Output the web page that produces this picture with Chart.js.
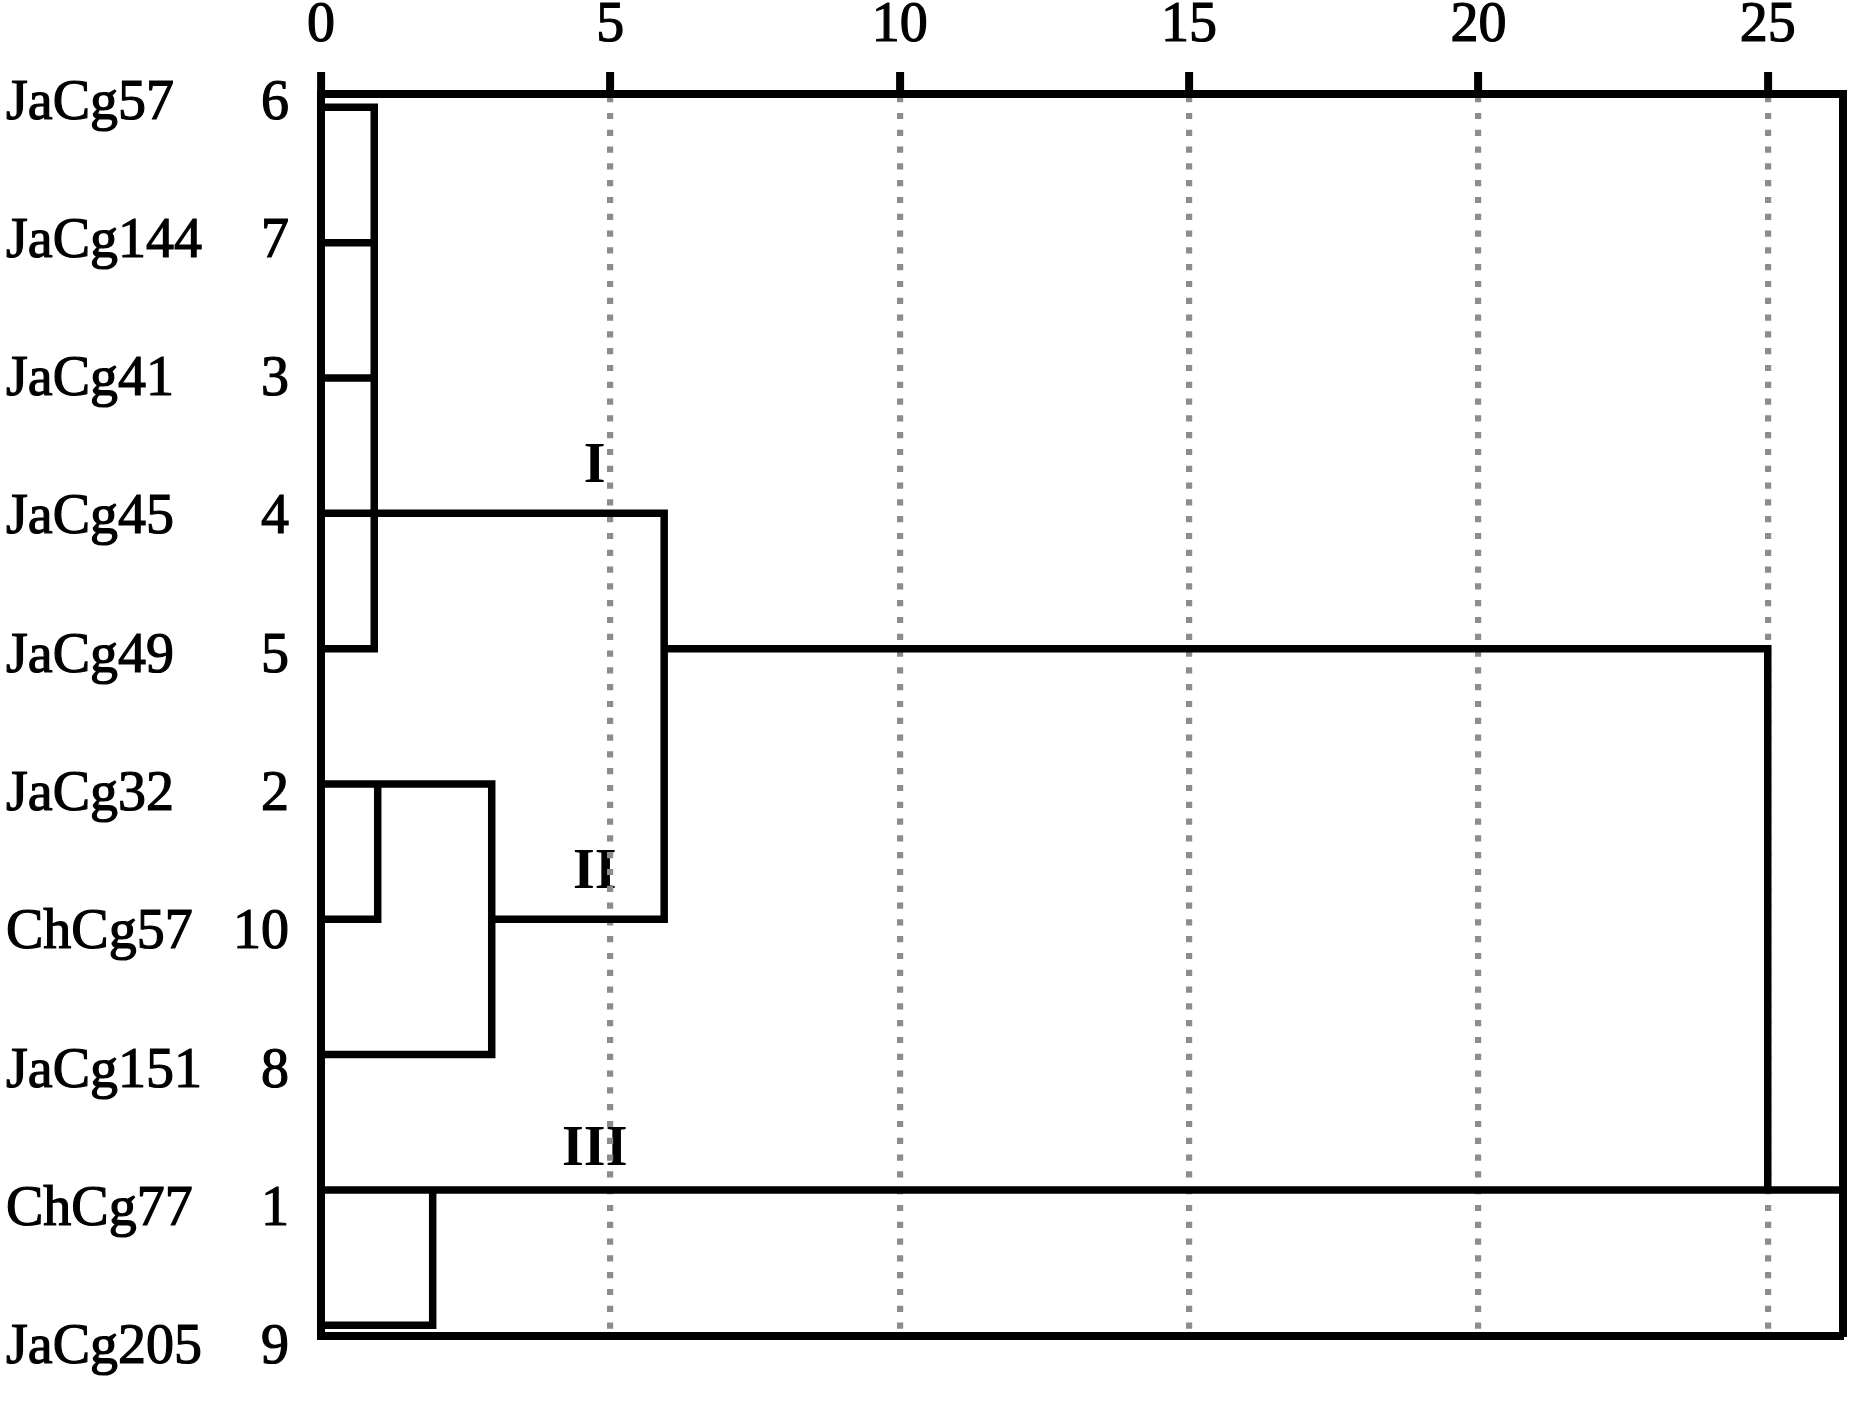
<!DOCTYPE html>
<html>
<head>
<meta charset="utf-8">
<title>Dendrogram</title>
<script src="https://cdn.jsdelivr.net/npm/chart.js@4.4.1/dist/chart.umd.min.js"></script>
<style>
  html, body { margin: 0; padding: 0; background: #fff; }
  canvas { display: block; }
</style>
</head>
<body>
<canvas id="chart" width="1853" height="1402"></canvas>
<script>
// Leaves from top to bottom
const leafNames = ['JaCg57', 'JaCg144', 'JaCg41', 'JaCg45', 'JaCg49', 'JaCg32', 'ChCg57', 'JaCg151', 'ChCg77', 'JaCg205'];
const leafNumbers = ['6', '7', '3', '4', '5', '2', '10', '8', '1', '9'];

// Rescaled distance axis
const distanceTicks = [0, 5, 10, 15, 20, 25];
const distanceMax = 26.3;

// Branches of the tree, each one a polyline of [distance, leaf row]
const branches = [
    [[0, 0], [0.92, 0], [0.92, 4], [0, 4]],
    [[0, 1], [0.92, 1]],
    [[0, 2], [0.92, 2]],
    [[0, 3], [5.93, 3], [5.93, 6], [2.95, 6]],
    [[0, 5], [2.95, 5], [2.95, 7], [0, 7]],
    [[0.98, 5], [0.98, 6], [0, 6]],
    [[5.93, 4], [25, 4], [25, 8]],
    [[0, 8], [distanceMax, 8]],
    [[1.93, 8], [1.93, 9], [0, 9]]
];

// Cluster names and where they sit (distance, row)
const clusterNames = ['I', 'II', 'III'];
const clusterX = [4.73, 4.73, 4.73];
const clusterY = [2.66, 5.66, 7.71];

const serif = "'Liberation Serif', 'Times New Roman', serif";
const labelFont = { family: serif, size: 56 };

// Draw the cluster names under the grid
const clusterNamePlugin = {
    id: 'clusterNames',
    beforeDraw(chart) {
        const { ctx, scales } = chart;
        ctx.save();
        ctx.font = 'bold 56px ' + serif;
        ctx.fillStyle = '#000';
        ctx.textAlign = 'center';
        ctx.textBaseline = 'middle';
        clusterNames.forEach((name, i) => {
            ctx.fillText(name, scales.x.getPixelForValue(clusterX[i]), scales.y.getPixelForValue(clusterY[i]));
        });
        ctx.restore();
    }
};

const datasets = branches.map(branch => ({
    data: branch.map(p => ({ x: p[0], y: p[1] })),
    showLine: true,
    borderColor: '#000',
    borderWidth: 7.5,
    borderJoinStyle: 'miter',
    pointRadius: 0,
    tension: 0,
    xAxisID: 'x',
    yAxisID: 'y'
}));

const leafTicks = scale => {
    scale.ticks = leafNames.map((_, i) => ({ value: i }));
};

const ctx = document.getElementById('chart').getContext('2d');
const chart = new Chart(ctx, {
    type: 'scatter',
    data: { datasets: datasets },
    plugins: [clusterNamePlugin],
    options: {
        responsive: false,
        devicePixelRatio: 1,
        animation: false,
        events: [],
        layout: { padding: { left: 6, top: 0, right: 0, bottom: 0 } },
        plugins: {
            legend: { display: false },
            tooltip: { enabled: false }
        },
        scales: {
            x: {
                type: 'linear',
                position: 'top',
                min: 0,
                max: distanceMax,
                afterBuildTicks: scale => {
                    scale.ticks = distanceTicks.map(v => ({ value: v }));
                },
                afterFit: scale => { scale.height = 94; },
                ticks: {
                    font: { family: serif, size: 56, lineHeight: 1 },
                    color: '#000',
                    textStrokeColor: '#000',
                    textStrokeWidth: 1.2,
                    padding: 18,
                    maxRotation: 0,
                    autoSkip: false
                },
                grid: {
                    color: c => (c.tick && c.tick.value === 0) ? 'rgba(0,0,0,0)' : '#8c8c8c',
                    lineWidth: 6.2,
                    tickLength: 22,
                    tickWidth: 8,
                    tickColor: '#000'
                },
                border: { color: '#000', width: 8, dash: [6.2, 10.6], dashOffset: 1.9 }
            },
            xb: {
                type: 'linear',
                position: 'bottom',
                min: 0,
                max: distanceMax,
                afterFit: scale => { scale.height = 52; },
                ticks: { display: false },
                grid: { display: false, drawTicks: false },
                border: { color: '#000', width: 8 }
            },
            y: {
                type: 'linear',
                reverse: true,
                min: -0.0987,
                max: 9.0826,
                display: false
            },
            yNum: {
                type: 'linear',
                position: 'left',
                weight: 1,
                reverse: true,
                min: -0.0715,
                max: 8.9127,
                afterBuildTicks: leafTicks,
                afterFit: scale => { scale.width = 100; },
                ticks: {
                    callback: value => leafNumbers[value],
                    font: labelFont,
                    color: '#000',
                    textStrokeColor: '#000',
                    textStrokeWidth: 1.2,
                    padding: 32,
                    autoSkip: false
                },
                grid: { display: false, drawTicks: false },
                border: { color: '#000', width: 8 }
            },
            yName: {
                type: 'linear',
                position: 'left',
                weight: 2,
                reverse: true,
                min: -0.0715,
                max: 8.9127,
                afterBuildTicks: leafTicks,
                afterFit: scale => { scale.width = 215; },
                ticks: {
                    callback: value => leafNames[value],
                    font: labelFont,
                    color: '#000',
                    textStrokeColor: '#000',
                    textStrokeWidth: 1.2,
                    crossAlign: 'far',
                    padding: 0,
                    autoSkip: false
                },
                grid: { display: false, drawTicks: false },
                border: { display: false }
            },
            yr: {
                type: 'linear',
                position: 'right',
                afterFit: scale => { scale.width = 10; },
                ticks: { display: false },
                grid: { display: false, drawTicks: false },
                border: { color: '#000', width: 8 }
            }
        }
    }
});
</script>
</body>
</html>
